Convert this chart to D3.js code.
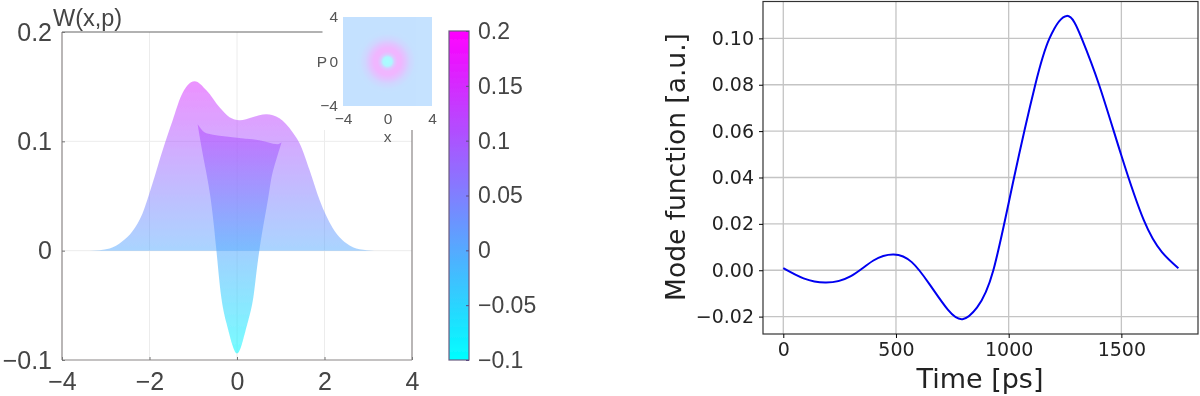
<!DOCTYPE html>
<html>
<head>
    <meta charset="utf-8">
    <title>Wigner function and mode function</title>
    <script src="https://d3js.org/d3.v7.min.js"></script>
    <style>
        body { margin: 0; padding: 0; background: #fff; overflow: hidden; }
        .left text { font-family: "Liberation Sans", Arial, sans-serif; fill: #444; }
        .right text { font-family: "DejaVu Sans", sans-serif; fill: #222; }
    </style>
</head>
<body>
<div id="chart"></div>
<script>
    // Wigner function outline W(x, p=0)
    var outlineX = [-3.6, -3.37, -2.91, -2.62, -2.39, -2.16, -1.93, -1.70, -1.47, -1.27, -1.13, -0.97, -0.70, -0.40, -0.17, 0.06, 0.35, 0.67, 0.97, 1.27, 1.43, 1.66, 1.89, 2.18, 2.50, 2.80, 3.14];
    var outlineW = [0, 0, 0.002, 0.0085, 0.0177, 0.0341, 0.0616, 0.0918, 0.1192, 0.1421, 0.1512, 0.1549, 0.1467, 0.1311, 0.122, 0.1192, 0.122, 0.1247, 0.121, 0.1082, 0.0982, 0.0735, 0.046, 0.0213, 0.0067, 0.0012, 0];

    // the darker slice through the middle: top edge, then the dip going round
    var sliceTopX = [-0.90, -0.70, -0.10, 0.51, 0.93, 1.02];
    var sliceTopW = [0.1156, 0.1073, 0.1037, 0.1009, 0.0973, 0.0991];
    var dipX = [1.02, 0.81, 0.72, 0.51, 0.375, 0.24, 0.10, 0, -0.10, -0.24, -0.36, -0.47, -0.61, -0.77, -0.90];
    var dipW = [0.0991, 0.0707, 0.0497, 0, -0.0424, -0.0665, -0.087, -0.094, -0.087, -0.0665, -0.0424, 0, 0.0497, 0.0854, 0.1156];

    // radial profile of the inset map
    var ringR = [0, 0.4, 0.62, 0.9, 1.2, 1.6, 2, 2.5, 3];
    var ringW = [-0.1, -0.07, 0.08, 0.15, 0.15, 0.1, 0.04, 0.005, 0];

    var wXTicks = [-4, -2, 0, 2, 4];
    var wYTicks = [-0.1, 0, 0.1, 0.2];
    var insetTicks = [-4, 0, 4];
    var barTicks = [-0.1, -0.05, 0, 0.05, 0.1, 0.15, 0.2];
    var barColors = ["#00ffff", "#ff00ff"];

    // mode function
    var modeT = [0, 90, 190, 300, 400, 490, 570, 650, 730, 795, 860, 932, 1024, 1118, 1181, 1258, 1324, 1401, 1500, 1600, 1680, 1753];
    var modeV = [0.0009, -0.0035, -0.0053, -0.0025, 0.0042, 0.0068, 0.0035, -0.0062, -0.017, -0.0211, -0.016, 0, 0.04, 0.08, 0.10, 0.1097, 0.10, 0.08, 0.0495, 0.0215, 0.0078, 0.0009];
    var modeXTicks = [0, 500, 1000, 1500];
    var modeYTicks = [-0.02, 0, 0.02, 0.04, 0.06, 0.08, 0.10];

    var svg = d3.select("#chart").append("svg")
        .attr("width", 1200)
        .attr("height", 396);

    var defs = svg.append("defs");
    defs.append("filter").attr("id", "soft")
        .attr("x", 0).attr("y", 0).attr("width", 1200).attr("height", 396)
        .attr("filterUnits", "userSpaceOnUse")
        .append("feGaussianBlur").attr("stdDeviation", 0.5);

    var color = d3.scaleLinear().domain([-0.1, 0.2]).range(barColors);

    // ---- left panel ----
    var left = svg.append("g").attr("class", "left").attr("filter", "url(#soft)");

    var xW = d3.scaleLinear().domain([-4, 4]).range([62, 412]);
    var yW = d3.scaleLinear().domain([-0.1, 0.2]).range([360, 32]);

    // vertical colour ramp shared by both areas
    var ramp = defs.append("linearGradient").attr("id", "ramp")
        .attr("gradientUnits", "userSpaceOnUse")
        .attr("x1", 0).attr("x2", 0)
        .attr("y1", yW(-0.1)).attr("y2", yW(0.2));
    ramp.append("stop").attr("offset", "0%").attr("stop-color", barColors[0]);
    ramp.append("stop").attr("offset", "100%").attr("stop-color", barColors[1]);

    // grid
    left.selectAll(".gx").data([-2, 0, 2]).enter().append("line")
        .attr("x1", function(d) { return xW(d); }).attr("x2", function(d) { return xW(d); })
        .attr("y1", yW(0.2)).attr("y2", yW(-0.1))
        .attr("stroke", "#ececec");
    left.selectAll(".gy").data([0, 0.1]).enter().append("line")
        .attr("x1", xW(-4)).attr("x2", xW(4))
        .attr("y1", function(d) { return yW(d); }).attr("y2", function(d) { return yW(d); })
        .attr("stroke", "#ececec");

    var outline = d3.area()
        .x(function(d) { return xW(d[0]); })
        .y0(yW(0))
        .y1(function(d) { return yW(d[1]); })
        .curve(d3.curveMonotoneX);
    left.append("path")
        .attr("d", outline(d3.zip(outlineX, outlineW)))
        .attr("fill", "url(#ramp)")
        .attr("fill-opacity", 0.5);

    // two pieces so the top corners of the slice stay sharp
    var sliceTop = d3.line()
        .x(function(d) { return xW(d[0]); })
        .y(function(d) { return yW(d[1]); })
        .curve(d3.curveMonotoneX);
    var sliceDip = d3.line()
        .x(function(d) { return xW(d[0]); })
        .y(function(d) { return yW(d[1]); })
        .curve(d3.curveNatural);
    left.append("path")
        .attr("d", sliceTop(d3.zip(sliceTopX, sliceTopW)) + sliceDip(d3.zip(dipX, dipW)).replace("M", "L") + "Z")
        .attr("fill", "url(#ramp)")
        .attr("fill-opacity", 0.55);

    // axes box
    var frame = left.append("g").attr("fill", "none").attr("stroke", "#8a8585").attr("stroke-width", 1.2);
    frame.append("line").attr("x1", xW(-4)).attr("x2", xW(4)).attr("y1", yW(-0.1)).attr("y2", yW(-0.1));
    frame.append("line").attr("x1", xW(-4)).attr("x2", xW(-4)).attr("y1", yW(0.2)).attr("y2", yW(-0.1));
    frame.append("line").attr("x1", xW(4)).attr("x2", xW(4)).attr("y1", yW(0.2)).attr("y2", yW(-0.1));
    frame.append("line").attr("x1", xW(-4)).attr("x2", xW(4)).attr("y1", yW(0.2)).attr("y2", yW(0.2)).attr("stroke", "#666");

    // the inset sits on a white patch that hides the corner of the box
    left.append("rect")
        .attr("x", xW(2) - 2).attr("y", 0)
        .attr("width", xW(4) - xW(2) + 6).attr("height", 130)
        .attr("fill", "#fff");

    var xAxisW = d3.axisBottom(xW).tickValues(wXTicks).tickSize(-3).tickPadding(12).tickFormat(d3.format("d"));
    var yAxisW = d3.axisLeft(yW).tickValues(wYTicks).tickSize(-3).tickPadding(10).tickFormat(d3.format("~g"));
    left.append("g").attr("transform", "translate(0," + yW(-0.1) + ")").call(xAxisW)
        .call(function(g) { g.select(".domain").remove(); g.selectAll("line").attr("stroke", "#777"); })
        .selectAll("text").style("font-size", "25px");
    left.append("g").attr("transform", "translate(" + xW(-4) + ",0)").call(yAxisW)
        .call(function(g) { g.select(".domain").remove(); g.selectAll("line").attr("stroke", "#777"); })
        .selectAll("text").style("font-size", "25px");

    left.append("text").attr("x", 53).attr("y", 26).style("font-size", "23.5px").text("W(x,p)");

    // inset map
    var xI = d3.scaleLinear().domain([-4, 4]).range([343, 432]);
    var yI = d3.scaleLinear().domain([-4, 4]).range([106, 17]);
    var ringGrad = defs.append("radialGradient").attr("id", "ring");
    d3.zip(ringR, ringW).forEach(function(d) {
        ringGrad.append("stop")
            .attr("offset", (d[0] / 3 * 100) + "%")
            .attr("stop-color", color(d[1]));
    });
    var inset = left.append("g").attr("opacity", 0.34);
    inset.append("rect")
        .attr("x", xI(-4)).attr("y", yI(4))
        .attr("width", xI(4) - xI(-4)).attr("height", yI(-4) - yI(4))
        .attr("fill", color(0));
    inset.append("circle")
        .attr("cx", xI(0)).attr("cy", yI(0))
        .attr("r", xI(3) - xI(0))
        .attr("fill", "url(#ring)");

    var insetX = d3.axisBottom(xI).tickValues(insetTicks).tickSize(0).tickPadding(7).tickFormat(d3.format("d"));
    var insetY = d3.axisLeft(yI).tickValues(insetTicks).tickSize(0).tickPadding(5).tickFormat(d3.format("d"));
    left.append("g").attr("transform", "translate(0," + yI(-4) + ")").call(insetX)
        .call(function(g) { g.select(".domain").remove(); })
        .selectAll("text").style("font-size", "15.5px").style("fill", "#555");
    left.append("g").attr("transform", "translate(" + xI(-4) + ",0)").call(insetY)
        .call(function(g) { g.select(".domain").remove(); })
        .selectAll("text").style("font-size", "15.5px").style("fill", "#555");
    left.append("text").attr("x", xI(0)).attr("y", 142).attr("text-anchor", "middle").style("font-size", "15.5px").style("fill", "#555").text("x");
    left.append("text").attr("x", 322).attr("y", 67).attr("text-anchor", "middle").style("font-size", "15.5px").style("fill", "#555").text("P");

    // colour bar
    var yBar = d3.scaleLinear().domain([-0.1, 0.2]).range([360, 31]);
    var barRamp = defs.append("linearGradient").attr("id", "barRamp")
        .attr("x1", 0).attr("x2", 0).attr("y1", 1).attr("y2", 0);
    barRamp.append("stop").attr("offset", "0%").attr("stop-color", barColors[0]);
    barRamp.append("stop").attr("offset", "100%").attr("stop-color", barColors[1]);
    left.append("rect")
        .attr("x", 449).attr("y", yBar(0.2))
        .attr("width", 20).attr("height", yBar(-0.1) - yBar(0.2))
        .attr("fill", "url(#barRamp)")
        .attr("stroke", "#6a5a80").attr("stroke-width", 1.2);

    var barAxis = d3.axisRight(yBar).tickValues(barTicks).tickSize(-3).tickPadding(9).tickFormat(d3.format("~g"));
    left.append("g").attr("transform", "translate(469,0)").call(barAxis)
        .call(function(g) { g.select(".domain").remove(); g.selectAll("line").attr("stroke", "#5a4a80"); })
        .selectAll("text").style("font-size", "23px");

    // ---- right panel ----
    var right = svg.append("g").attr("class", "right").attr("filter", "url(#soft)");
    var plot = { left: 763, right: 1198, top: 1.5, bottom: 334 };

    var xM = d3.scaleLinear().domain([-90, 1840]).range([plot.left, plot.right]);
    var yM = d3.scaleLinear().domain([-0.0275, 0.1159]).range([plot.bottom, plot.top]);

    right.selectAll(".gx").data(modeXTicks).enter().append("line")
        .attr("x1", function(d) { return xM(d); }).attr("x2", function(d) { return xM(d); })
        .attr("y1", plot.top).attr("y2", plot.bottom)
        .attr("stroke", "#c4c4c4").attr("stroke-width", 1.3);
    right.selectAll(".gy").data(modeYTicks).enter().append("line")
        .attr("x1", plot.left).attr("x2", plot.right)
        .attr("y1", function(d) { return yM(d); }).attr("y2", function(d) { return yM(d); })
        .attr("stroke", "#c4c4c4").attr("stroke-width", 1.3);

    var line = d3.line()
        .x(function(d) { return xM(d[0]); })
        .y(function(d) { return yM(d[1]); })
        .curve(d3.curveNatural);
    right.append("path")
        .attr("d", line(d3.zip(modeT, modeV)))
        .attr("fill", "none")
        .attr("stroke", "#0000f0")
        .attr("stroke-width", 2);

    right.append("rect")
        .attr("x", plot.left).attr("y", plot.top)
        .attr("width", plot.right - plot.left).attr("height", plot.bottom - plot.top)
        .attr("fill", "none").attr("stroke", "#333").attr("stroke-width", 1.2);

    right.append("g").attr("transform", "translate(0," + plot.bottom + ")")
        .call(d3.axisBottom(xM).tickValues(modeXTicks).tickSize(4).tickPadding(5).tickFormat(d3.format("d")))
        .call(function(g) { g.select(".domain").remove(); })
        .selectAll("text").style("font-size", "19px");
    right.append("g").attr("transform", "translate(" + plot.left + ",0)")
        .call(d3.axisLeft(yM).tickValues(modeYTicks).tickSize(4).tickPadding(5).tickFormat(d3.format(".2f")))
        .call(function(g) { g.select(".domain").remove(); })
        .selectAll("text").style("font-size", "19px");

    right.append("text")
        .attr("x", 980).attr("y", 388)
        .attr("text-anchor", "middle")
        .style("font-size", "27px")
        .text("Time [ps]");
    right.append("text")
        .attr("transform", "translate(685,167) rotate(-90)")
        .attr("text-anchor", "middle")
        .style("font-size", "26.5px")
        .text("Mode function [a.u.]");
</script>
</body>
</html>
